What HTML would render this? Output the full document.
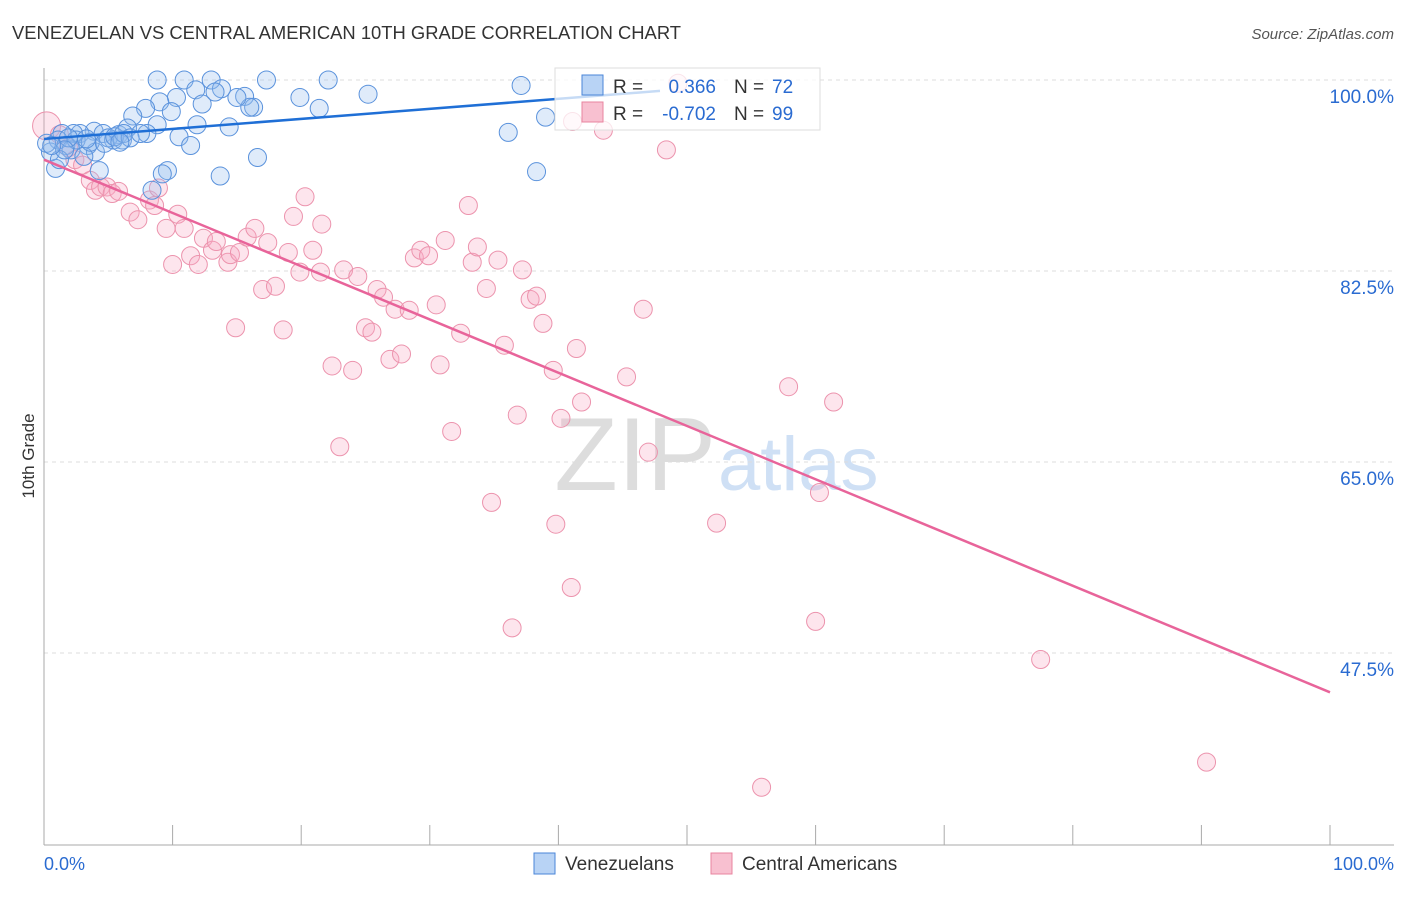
<!DOCTYPE html>
<html><head><meta charset="utf-8"><style>
body{margin:0;background:#fff;font-family:"Liberation Sans",sans-serif}
svg text{font-family:"Liberation Sans",sans-serif}
</style></head><body>
<svg id="chart" width="1406" height="892" xmlns="http://www.w3.org/2000/svg">
<text x="12" y="39" font-size="18.4" fill="#333">VENEZUELAN VS CENTRAL AMERICAN 10TH GRADE CORRELATION CHART</text>
<text x="1394" y="39" font-size="15" fill="#555" text-anchor="end" font-style="italic">Source: ZipAtlas.com</text>
<text x="716" y="490" font-size="104" fill="#ddd" text-anchor="end" font-family="Liberation Serif">ZIP</text>
<text x="718" y="490" font-size="76" fill="#cfe0f5">atlas</text>
<g id="grid"></g>
<g id="axes"></g>
<g id="pts"></g>
<g id="lines"></g>
<text transform="translate(34,456) rotate(-90)" font-size="17" fill="#333" text-anchor="middle">10th Grade</text>
<g>
<rect x="555" y="68" width="265" height="62" fill="rgba(255,255,255,0.75)" stroke="#ddd"/>
<rect x="582" y="75" width="21" height="20" fill="#b8d3f5" stroke="#4a86d8"/>
<rect x="582" y="102" width="21" height="20" fill="#f8c0d0" stroke="#e8849f"/>
<text x="613" y="93" font-size="19" fill="#333">R =</text><text x="716" y="93" font-size="19" fill="#2a6bd1" text-anchor="end">0.366</text>
<text x="734" y="93" font-size="19" fill="#333">N =</text><text x="772" y="93" font-size="19" fill="#2a6bd1">72</text>
<text x="613" y="120" font-size="19" fill="#333">R =</text><text x="716" y="120" font-size="19" fill="#2a6bd1" text-anchor="end">-0.702</text>
<text x="734" y="120" font-size="19" fill="#333">N =</text><text x="772" y="120" font-size="19" fill="#2a6bd1">99</text>
</g>
<g>
<rect x="534" y="853" width="21" height="21" fill="#b8d3f5" stroke="#4a86d8"/>
<text x="565" y="870" font-size="19" fill="#333">Venezuelans</text>
<rect x="711" y="853" width="21" height="21" fill="#f8c0d0" stroke="#e8849f"/>
<text x="742" y="870" font-size="19" fill="#333">Central Americans</text>
</g>
<text x="44" y="870" font-size="18" fill="#2a6bd1">0.0%</text>
<text x="1394" y="870" font-size="18" fill="#2a6bd1" text-anchor="end">100.0%</text>
</svg>
<script>
const yTicks=[100,82.5,65,47.5];
const yTickLabels=["100.0%","82.5%","65.0%","47.5%"];
const xTicks=[0,10,20,30,40,50,60,70,80,90,100];
const blueX=[8.8,10.9,13.0,17.3,22.1,37.1,13.8,11.8,13.3,10.3,15.6,19.9,25.2,9.0,12.3,16.3,21.4,7.9,6.9,9.9,16.0,8.8,11.9,14.4,8.0,10.5,11.4,16.6,36.1,38.3,13.7,9.6,9.2,8.4,3.9,4.6,5.8,6.5,5.4,5.0,6.1,2.8,2.3,1.4,1.1,1.7,2.1,3.4,4.0,3.1,4.3,0.9,0.5,0.2,1.2,2.5,3.6,4.7,5.5,6.2,6.7,7.5,1.9,3.3,5.9,1.6,0.6,39.0,15.0];
const blueY=[100,100,100,100,100,99.5,99.2,99.1,98.9,98.4,98.5,98.4,98.7,98.0,97.8,97.5,97.4,97.4,96.7,97.1,97.5,95.9,95.9,95.7,95.1,94.8,94.0,92.9,95.2,91.6,91.2,91.7,91.4,89.9,95.3,95.1,95.0,95.6,94.5,94.7,94.5,95.1,95.1,95.1,94.5,94.0,93.6,94.0,93.4,93.0,91.7,91.9,93.4,94.2,92.7,94.5,94.3,94.2,94.8,95.1,94.7,95.1,94.7,94.6,94.3,93.6,94.0,96.6,98.4];
const pinkX=[0.2,1.2,1.9,2.4,3.0,3.6,4.0,4.4,4.9,5.3,5.8,6.7,7.3,8.2,8.6,8.9,10.4,9.5,10.9,10.0,11.4,12.0,12.4,13.1,13.4,14.3,14.5,15.2,15.8,16.4,17.4,17.0,18.0,14.9,18.6,19.0,19.4,20.3,20.9,21.6,19.9,21.5,23.3,24.4,25.9,26.4,27.3,28.4,25.0,25.5,22.4,24.0,26.9,27.8,30.8,30.5,28.8,29.3,29.9,31.2,33.0,33.3,33.7,34.4,35.3,37.2,37.8,38.3,38.8,32.4,35.8,39.6,41.4,41.8,40.2,36.8,31.7,23.0,34.8,39.8,41.0,36.4,43.5,48.4,46.6,45.3,47.0,52.3,57.9,61.4,60.3,60.0,77.5,90.4,55.8,41.1,49.3];
const pinkY=[95.8,95.0,93.8,92.7,92.2,90.8,89.9,90.2,90.2,89.6,89.8,87.9,87.2,89.0,88.5,90.1,87.7,86.4,86.4,83.1,83.9,83.1,85.5,84.4,85.2,83.3,84.0,84.2,85.6,86.4,85.1,80.8,81.1,77.3,77.1,84.2,87.5,89.3,84.4,86.8,82.4,82.4,82.6,82.0,80.8,80.1,79.0,78.9,77.3,76.9,73.8,73.4,74.4,74.9,73.9,79.4,83.7,84.4,83.9,85.3,88.5,83.3,84.7,80.9,83.5,82.6,79.9,80.2,77.7,76.8,75.7,73.4,75.4,70.5,69.0,69.3,67.8,66.4,61.3,59.3,53.5,49.8,95.4,93.6,79.0,72.8,65.9,59.4,71.9,70.5,62.2,50.4,46.9,37.5,35.2,96.2,99.7];
const blueLine=[[0,94.6],[47.9,99.0]];
const pinkLine=[[0,92.7],[100,43.9]];
const NS="http://www.w3.org/2000/svg";
const X=v=>44+v*12.86, Y=v=>80+(100-v)*191/17.5;
function mk(t,a,p){const e=document.createElementNS(NS,t);for(const k in a)e.setAttribute(k,a[k]);p.appendChild(e);return e;}
const grid=document.getElementById('grid'),axes=document.getElementById('axes'),pts=document.getElementById('pts'),lines=document.getElementById('lines');
yTicks.forEach((v,i)=>{
 const l=mk('line',{x1:44,x2:1394,y1:Y(v),y2:Y(v),stroke:'#ddd','stroke-dasharray':'4,4'},grid);
 
 
 const t=mk('text',{x:1394,y:Y(v)+23,'font-size':19,fill:'#2a6bd1','text-anchor':'end'},grid);
 t.textContent=yTickLabels[i];
 
 
});
const ya=mk('line',{x1:44,x2:44,y1:68,y2:845,stroke:'#aaa'},axes);


const xa=mk('line',{x1:44,x2:1394,y1:845,y2:845,stroke:'#aaa'},axes);


xTicks.forEach(v=>{
 const t=mk('line',{x1:X(v),x2:X(v),y1:825,y2:845,stroke:'#aaa'},axes);
 
 
});
pinkX.forEach((v,i)=>{
 const c=mk('circle',{cx:X(v),cy:Y(pinkY[i]),r:i==0?14:9,fill:'rgba(248,170,195,0.3)',stroke:'#ec93ad','stroke-width':1},pts);
 
 
});
blueX.forEach((v,i)=>{
 const c=mk('circle',{cx:X(v),cy:Y(blueY[i]),r:9,fill:'rgba(150,190,240,0.3)',stroke:'#5a92dc','stroke-width':1},pts);
 
 
});
const bl=mk('line',{x1:X(blueLine[0][0]),y1:Y(blueLine[0][1]),x2:X(blueLine[1][0]),y2:Y(blueLine[1][1]),stroke:'#1f6fd6','stroke-width':2.5},lines);


const pl=mk('line',{x1:X(pinkLine[0][0]),y1:Y(pinkLine[0][1]),x2:X(pinkLine[1][0]),y2:Y(pinkLine[1][1]),stroke:'#e8649a','stroke-width':2.5},lines);


</script>
</body></html>
